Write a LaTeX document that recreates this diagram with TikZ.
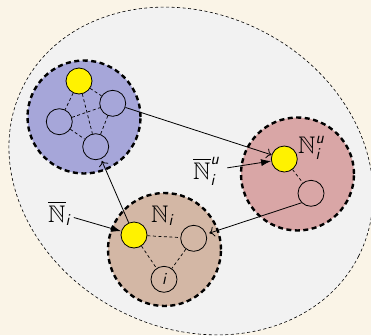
\documentclass[tikz,border=0pt]{standalone}
\usepackage{amsmath}
\usepackage{amssymb}
\usetikzlibrary{arrows.meta}
\definecolor{bgcream}{RGB}{250,244,231}
\definecolor{cloudgray}{RGB}{242,242,242}
\definecolor{bubbleblue}{RGB}{166,166,217}
\definecolor{bubblepink}{RGB}{217,166,166}
\definecolor{bubbletan}{RGB}{211,183,165}
\newcommand{\sfvar}[1]{\text{\normalfont\sffamily\itshape #1}}
\begin{document}
\begin{tikzpicture}[x=1pt,y=-1pt,
  bubble/.style={circle,draw=black,line width=2.4pt,dash pattern=on 5pt off 3.5pt,minimum size=113pt,inner sep=0},
  vert/.style={circle,draw=black,line width=0.8pt,minimum size=26pt,inner sep=0,font=\fontsize{17}{20}\selectfont},
  hub/.style={vert,fill=yellow},
  link/.style={line width=0.7pt,dash pattern=on 3pt off 2.5pt},
  flow/.style={-{To[length=5pt,width=10pt]},line width=0.8pt},
  feed/.style={-{Latex[length=10pt,width=7pt]},line width=0.8pt},
  lab/.style={inner sep=0,anchor=base west,font=\fontsize{24}{28}\selectfont}
]
\useasboundingbox[fill=bgcream] (0,0) rectangle (371,335);
% large cloud
\draw[fill=cloudgray,line width=0.6pt,dash pattern=on 3pt off 2.5pt,rotate around={-27:(191,171)}]
  (191,171) ellipse [x radius=188pt, y radius=157pt];
% bubbles
\node[bubble,fill=bubbleblue] (B) at (84,117) {};
\node[bubble,fill=bubblepink] (P) at (297.5,174) {};
\node[bubble,fill=bubbletan] (R) at (164.5,249.5) {};
% blue vertices
\node[hub] (b1) at (79,81) {};
\node[vert] (b2) at (112.7,103.3) {};
\node[vert] (b3) at (59.3,121.7) {};
\node[vert] (b4) at (95.7,146.7) {};
% pink vertices
\node[hub] (p1) at (284.3,159) {};
\node[vert] (p2) at (311,193.3) {};
% tan vertices
\node[hub] (r1) at (134,235) {};
\node[vert] (r2) at (193.7,238.3) {};
\node[vert] (r3) at (164,279.3) {\sffamily\itshape i};
% dashed links
\draw[link] (b1) -- (b2);
\draw[link] (b1) -- (b3);
\draw[link] (b1) -- (b4);
\draw[link] (b3) -- (b2);
\draw[link] (b3) -- (b4);
\draw[link] (b2) -- (b4);
\draw[link] (p1) -- (p2);
\draw[link] (r1) -- (r2);
\draw[link] (r1) -- (r3);
\draw[link] (r2) -- (r3);
% labels
\node[lab] (lNu) at (298,153) {$\mathbb{N}_{\sfvar{i}}^{\sfvar{u}}$};
\node[lab] (lNbu) at (193,179) {$\overline{\mathbb{N}}_{\sfvar{i}}^{\sfvar{u}}$};
\node[lab] (lN) at (151,222) {$\mathbb{N}_{\sfvar{i}}$};
\node[lab] (lNb) at (48,222) {$\overline{\mathbb{N}}_{\sfvar{i}}$};
% arrows
\draw[flow] (b2) -- (p1);
\draw[flow,shorten >=3pt] (p2.225) -- (r2);
\draw[flow,shorten >=2pt] (r1) -- (b4);
\draw[feed,shorten <=8pt] (lNbu) -- (p1);
\draw[feed,shorten <=4pt] (lNb) -- (r1);
\end{tikzpicture}
\end{document}
